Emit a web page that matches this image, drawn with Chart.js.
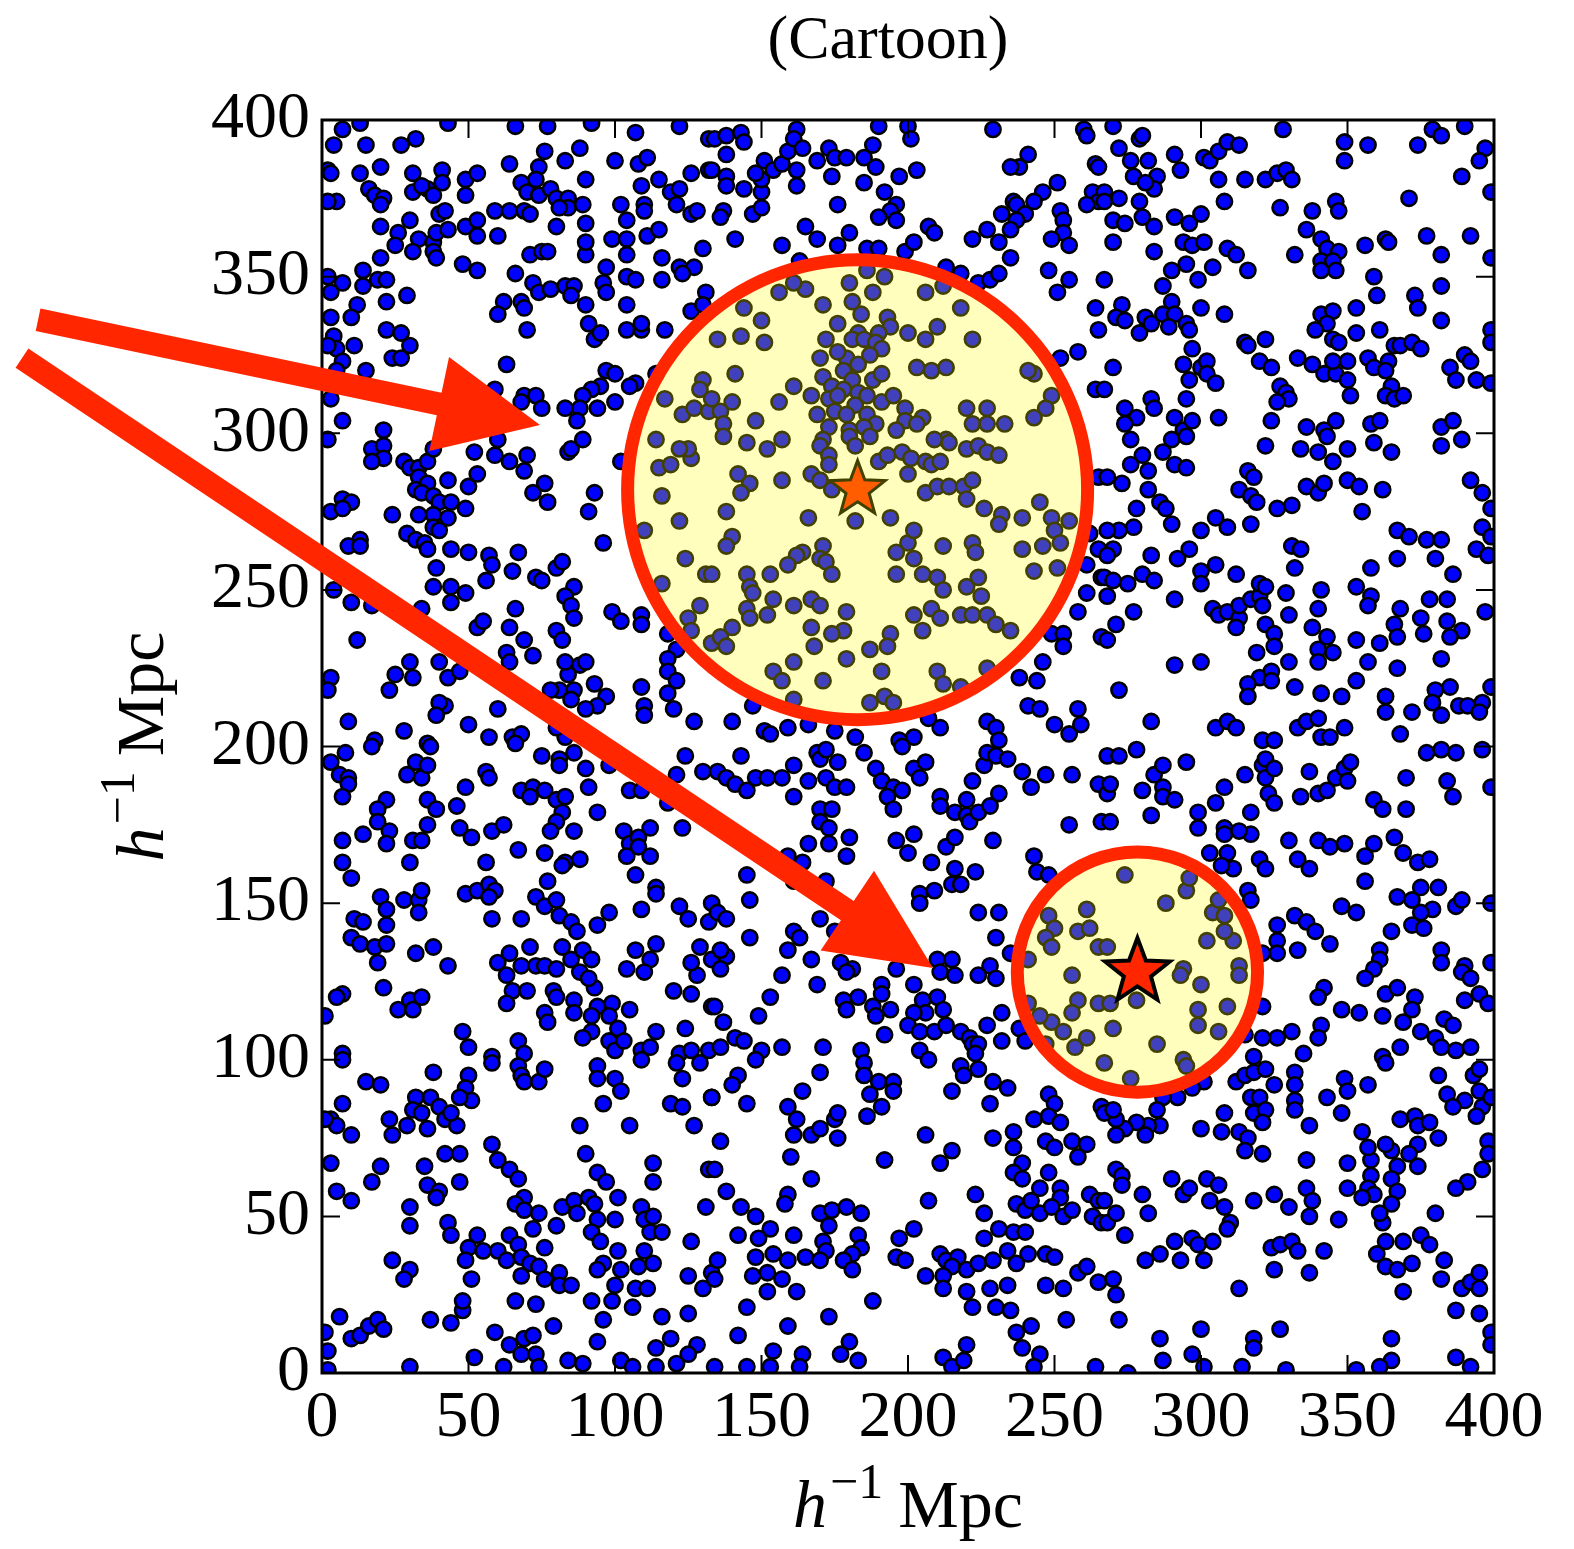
<!DOCTYPE html>
<html>
<head>
<meta charset="utf-8">
<script src="https://cdn.jsdelivr.net/npm/chart.js@4.4.1/dist/chart.umd.min.js"></script>
<style>
  html, body { margin: 0; padding: 0; background: #fff; }
  #wrap { width: 1574px; height: 1549px; }
</style>
</head>
<body>
<div id="wrap"><canvas id="cartoon" width="1574" height="1549"></canvas></div>
<script>
// galaxy positions in h^-1 Mpc, split by height in the box
var pointsTop = [
[7,397],[13,399],[43,399],[66,398],[77,398],[92,399],[107,396],[122,398],[132,394],[4,392],[15,392],[27,392],[32,394],[76,390],[88,391],[83,387],[100,387],[108,386],[111,388],[2,384],[3,383],[13,383],[20,385],[31,383],[41,384],[41,380],[49,381],[53,383],[64,386],[74,385],[73,381],[68,380],[90,381],[109,379],[115,381],[119,377],[122,378],[126,383],[132,384],[16,378],[18,376],[21,375],[20,373],[31,377],[36,378],[38,376],[34,379],[49,376],[70,377],[74,376],[78,378],[80,375],[84,375],[84,372],[89,373],[102,373],[110,373],[110,371],[121,373],[126,370],[128,371],[5,374],[2,374],[40,370],[42,371],[59,371],[64,371],[69,371],[71,370],[81,372],[90,367],[104,368],[20,366],[26,364],[30,368],[33,362],[38,361],[39,364],[43,365],[49,366],[53,368],[53,363],[60,363],[80,366],[99,362],[104,362],[111,363],[115,365],[25,360],[31,358],[38,358],[39,356],[48,354],[53,352],[71,357],[75,358],[77,358],[90,357],[90,361],[104,357],[116,356],[122,353],[127,353],[130,359],[20,356],[14,352],[7,348],[2,350],[3,345],[14,347],[19,349],[22,349],[22,342],[29,344],[66,351],[72,348],[74,345],[78,346],[83,347],[86,347],[85,344],[90,341],[97,353],[96,348],[97,345],[104,350],[107,349],[104,341],[116,349],[123,351],[131,345],[126,339],[130,341],[3,337],[12,341],[10,337],[62,342],[60,338],[68,342],[69,340],[70,333],[91,335],[93,330],[95,332],[104,333],[109,333],[109,335],[117,333],[4,331],[5,327],[2,328],[7,323],[11,328],[22,333],[27,332],[30,328],[24,324],[27,324],[63,322],[15,320],[5,320],[97,320],[100,319],[107,316],[105,315],[95,315],[92,314],[89,312],[88,308],[94,308],[100,310],[69,312],[73,312],[75,308],[68,310],[59,314],[83,308],[87,304],[114,319],[117,311],[123,306],[130,317],[129,314],[127,308],[132,307],[3,311],[7,304],[21,301],
[134,394],[138,395],[143,396],[144,393],[138,389],[133,384],[138,382],[138,379],[144,378],[137,371],[136,369],[147,370],[150,372],[150,377],[150,381],[148,383],[151,387],[154,384],[157,386],[159,390],[162,397],[161,394],[164,391],[162,384],[162,379],[169,387],[173,391],[175,388],[179,388],[174,382],[185,388],[188,392],[190,398],[200,398],[201,394],[189,385],[185,380],[192,377],[197,382],[203,384],[196,373],[194,371],[190,369],[196,368],[176,373],[165,366],[169,362],[180,364],[176,360],[186,359],[190,359],[199,358],[202,361],[207,366],[209,364],[141,362],[157,360],[163,355],[229,397],[260,397],[261,395],[264,386],[265,385],[263,377],[265,374],[261,373],[241,389],[238,385],[235,385],[251,380],[246,377],[243,374],[236,374],[237,373],[232,370],[240,370],[237,368],[235,365],[227,365],[231,361],[222,362],[252,371],[253,368],[253,364],[249,362],[255,360],[235,356],[248,352],[255,349],[251,345],[213,353],[218,351],[224,348],[228,349],[231,351],[264,340],[265,333],[252,324],[258,326],[264,314],
[186,352],[192,350],[180,348],[188,345],[156,345],[165,346],[161,348],[144,340],[150,336],[135,330],[143,331],[151,329],[171,341],[181,342],[184,338],[176,335],[183,332],[181,330],[172,330],[193,337],[194,334],[190,332],[185,330],[189,329],[191,327],[200,332],[206,330],[210,334],[222,330],[218,340],[206,345],[212,347],[170,324],[179,324],[176,326],[183,322],[187,325],[178,320],[171,318],[181,317],[188,317],[191,319],[174,315],[178,314],[183,313],[173,311],[176,312],[182,309],[186,312],[191,310],[195,312],[199,308],[167,312],[169,306],[175,307],[179,306],[186,306],[189,303],[199,304],[205,305],[196,301],[173,302],[180,301],[185,302],[203,321],[208,320],[213,321],[243,319],[241,320],[249,312],[247,308],[243,305],[220,308],[227,308],[222,303],[227,303],[233,303],[161,315],[156,310],[148,304],[140,310],[136,307],[137,303],[141,319],[133,311],[203,303],
[270,398],[279,394],[280,395],[272,391],[276,387],[282,387],[277,382],[285,382],[284,378],[281,380],[291,389],[293,384],[267,377],[272,375],[279,374],[267,374],[270,368],[274,367],[280,369],[284,366],[270,361],[291,369],[296,367],[300,370],[294,361],[297,360],[301,361],[284,358],[267,349],[287,347],[290,352],[295,354],[299,349],[304,353],[301,388],[303,387],[306,390],[309,393],[313,392],[306,381],[315,381],[308,374],[322,381],[326,383],[329,384],[331,381],[328,397],[349,393],[357,392],[349,387],[374,392],[379,397],[382,395],[390,398],[397,391],[395,387],[389,382],[399,377],[371,375],[346,374],[347,371],[338,371],[327,372],[336,365],[332,357],[341,362],[343,359],[347,358],[341,355],[345,355],[346,352],[341,352],[356,360],[363,362],[364,361],[377,363],[392,363],[382,357],[399,356],[382,347],[359,350],[360,344],[373,344],[374,340],[382,336],[399,333],[399,329],[309,359],[312,357],[316,352],[273,341],[271,337],[274,336],[279,332],[281,337],[283,335],[287,338],[290,342],[291,338],[289,334],[295,335],[296,333],[300,340],[308,338],[297,327],[294,322],[300,321],[302,323],[302,319],[296,317],[305,316],[270,321],[315,329],[316,328],[322,330],[320,323],[324,321],[333,324],[338,322],[342,319],[346,319],[350,317],[345,323],[350,323],[341,338],[345,339],[343,335],[339,333],[345,330],[347,329],[353,332],[353,340],[361,333],[357,324],[359,321],[364,323],[363,320],[366,328],[368,328],[372,329],[375,327],[365,315],[363,312],[366,311],[369,312],[351,312],[327,315],[329,313],[330,311],[326,310],[283,311],[284,308],[295,311],[274,308],[278,305],[274,303],[291,305],[294,301],[297,304],[306,305],[324,304],[336,302],[346,304],[342,301],[358,303],[361,304],[385,321],[390,325],[392,323],[387,317],[394,317],[382,302],[386,304],[267,314],[399,316]
];

var pointsUpper = [
[2,298],[17,295],[21,296],[21,292],[17,291],[28,291],[30,289],[33,289],[36,291],[38,295],[33,286],[36,284],[32,282],[34,281],[38,280],[40,278],[44,278],[38,274],[33,274],[43,273],[38,270],[40,269],[29,268],[32,266],[35,265],[36,263],[43,285],[50,283],[53,287],[52,294],[59,293],[60,298],[64,291],[69,288],[70,293],[76,284],[72,281],[77,278],[84,294],[85,295],[89,298],[93,281],[91,275],[96,265],[102,291],[7,279],[10,278],[3,275],[7,276],[24,274],[49,276],[13,266],[9,264],[13,264],[44,263],[50,262],[57,261],[58,258],[56,253],[39,257],[38,251],[44,251],[49,249],[44,246],[65,256],[67,262],[73,254],[75,253],[80,257],[82,259],[86,251],[83,248],[85,245],[86,241],[66,244],[64,238],[69,234],[72,229],[63,230],[64,227],[53,238],[55,240],[80,237],[82,234],[99,243],[102,240],[109,242],[109,239],[118,236],[121,231],[118,228],[118,224],[121,221],[118,217],[120,212],[109,219],[110,213],[110,210],[127,208],[93,220],[97,216],[94,213],[90,212],[84,223],[86,218],[81,218],[78,218],[85,215],[83,227],[88,226],[90,227],[60,212],[50,207],[42,213],[40,214],[39,210],[28,205],[18,202],[9,208],[36,201],[57,203],[65,203],[68,204],[66,201],[83,203],[80,206],[23,218],[25,223],[30,227],[31,222],[40,227],[43,222],[47,224],[12,234],[3,222],[2,218],[4,250],[10,246],[17,245],[34,244],[116,280],[122,272],[115,289],[119,290],[114,298],[126,292],[125,295],[116,252],[131,255],[129,245],[125,241],[126,237],[133,233],[110,269],[124,260],[122,295],
[137,299],[145,297],[152,295],[157,298],[171,298],[170,296],[173,293],[173,290],[180,299],[182,296],[187,299],[190,291],[193,293],[198,294],[201,292],[200,287],[206,291],[208,290],[211,291],[213,298],[214,297],[220,295],[224,296],[227,294],[231,293],[209,298],[142,287],[146,284],[143,281],[157,285],[167,287],[170,285],[174,282],[138,275],[166,273],[182,272],[194,273],[206,281],[210,283],[214,283],[219,283],[222,285],[220,279],[226,276],[232,274],[231,271],[239,273],[245,278],[249,273],[250,269],[255,272],[252,265],[246,264],[239,263],[243,256],[251,257],[140,267],[138,264],[164,262],[162,261],[171,264],[170,260],[172,259],[174,255],[159,258],[153,255],[145,255],[146,251],[147,249],[133,255],[154,247],[161,245],[167,247],[170,245],[152,242],[145,244],[146,241],[179,243],[196,262],[200,265],[202,269],[202,260],[196,255],[205,255],[210,254],[212,250],[220,251],[224,254],[225,248],[222,265],[223,262],[212,264],[202,242],[205,237],[208,244],[211,241],[218,242],[222,242],[227,242],[230,239],[235,237],[194,236],[193,232],[187,231],[178,237],[174,236],[167,238],[168,232],[179,228],[161,227],[154,224],[157,221],[171,221],[191,224],[210,224],[212,220],[218,219],[140,238],[136,235],[138,232],[161,215],[192,216],[187,214],[195,214],[227,225],[147,213],[140,208],[151,205],[153,204],[159,206],[166,207],[175,205],[182,203],[197,202],[202,203],[207,209],[211,206],[227,208],[230,206],[231,202],[238,222],[244,221],[246,227],[249,236],[253,236],[253,232],[258,243],[266,235],[241,213],[245,212],[258,212],[250,207],[255,204],[259,207],[261,249],[266,254],[261,258],[265,263],[262,268],[265,286],
[276,298],[290,298],[295,299],[280,293],[276,290],[282,288],[287,294],[291,290],[295,289],[268,286],[273,284],[282,282],[286,278],[288,276],[290,271],[278,276],[277,270],[272,269],[268,269],[270,263],[268,261],[267,254],[270,253],[275,252],[268,248],[283,261],[280,255],[284,253],[292,260],[296,263],[300,256],[300,252],[305,258],[300,269],[305,273],[309,270],[312,255],[291,247],[277,243],[271,239],[268,234],[291,226],[300,227],[272,218],[283,208],[305,206],[309,208],[312,206],[321,202],[325,202],[322,296],[334,295],[340,294],[343,299],[345,291],[350,295],[359,297],[365,294],[382,296],[389,298],[392,285],[396,281],[399,276],[396,270],[399,267],[394,263],[398,261],[316,288],[318,286],[313,282],[317,280],[319,278],[317,271],[326,276],[331,277],[336,283],[340,281],[342,284],[350,285],[354,283],[362,282],[355,275],[331,264],[334,263],[332,257],[358,257],[367,269],[371,267],[377,266],[382,266],[367,260],[380,260],[386,255],[304,244],[306,242],[309,243],[313,241],[313,245],[317,247],[320,248],[320,252],[322,251],[321,245],[312,238],[322,239],[325,236],[325,232],[319,230],[329,249],[330,242],[341,250],[340,244],[338,238],[343,235],[345,230],[340,231],[340,227],[330,227],[320,222],[324,224],[324,221],[316,220],[316,216],[332,219],[341,217],[348,216],[353,221],[357,227],[367,225],[353,234],[361,233],[366,239],[367,235],[368,244],[375,241],[376,236],[378,247],[384,247],[384,240],[389,237],[385,235],[382,228],[353,251],[358,248],[357,245],[397,243],[399,219],[380,218],[385,219],[379,214],[382,210],[388,213],[391,213],[396,214],[395,211],[363,216],[363,211],[372,211],[368,204],[333,206],[336,208],[340,209],[349,206],[341,203],[344,203]
];

var pointsLower = [
[8,198],[17,200],[3,195],[6,191],[9,190],[9,188],[7,184],[37,200],[32,195],[29,191],[34,190],[36,194],[36,183],[39,180],[46,181],[49,187],[56,192],[57,190],[22,183],[19,180],[19,176],[23,173],[22,169],[14,172],[7,170],[31,170],[34,170],[30,163],[36,175],[47,174],[51,171],[58,173],[62,175],[68,186],[72,187],[76,186],[71,184],[80,183],[83,184],[82,179],[80,176],[78,173],[86,173],[67,167],[76,166],[83,163],[82,162],[88,164],[77,157],[56,163],[7,163],[10,158],[75,197],[81,196],[81,194],[86,198],[90,193],[91,187],[94,179],[98,194],[105,186],[109,186],[118,182],[124,197],[121,191],[130,192],[123,174],[103,173],[105,169],[108,171],[108,168],[112,174],[112,165],[104,165],[107,159],[114,155],[114,153],[109,148],[122,149],[125,145],[132,144],[98,147],[94,143],[20,152],[22,148],[28,151],[33,151],[34,154],[33,147],[49,153],[53,154],[57,156],[59,154],[57,152],[58,145],[68,145],[73,152],[76,149],[80,151],[81,146],[85,144],[87,141],[11,145],[14,144],[22,143],[10,139],[13,137],[18,136],[22,137],[19,131],[32,134],[38,136],[43,130],[60,131],[64,134],[68,130],[71,136],[73,130],[76,130],[80,129],[82,136],[85,132],[89,135],[92,132],[88,128],[93,123],[91,126],[63,127],[65,122],[70,122],[63,118],[79,122],[80,120],[86,119],[86,115],[76,115],[77,112],[94,117],[99,118],[98,114],[92,114],[105,116],[101,110],[92,109],[89,107],[98,106],[100,103],[103,106],[109,103],[112,104],[114,109],[124,110],[122,102],[126,103],[132,103],[107,135],[114,137],[112,132],[110,128],[104,129],[120,122],[126,121],[128,127],[129,136],[126,131],[133,117],[133,132],[21,123],[26,116],[30,119],[31,116],[34,120],[7,121],[5,120],[1,114],[48,109],[50,104],[67,106],[69,102],[58,101],[7,102],
[143,197],[135,192],[138,190],[141,188],[145,186],[148,190],[152,190],[157,190],[161,194],[161,184],[166,189],[169,198],[170,196],[172,199],[176,195],[172,190],[175,187],[179,187],[185,198],[189,193],[191,189],[195,187],[193,184],[195,180],[198,186],[202,193],[204,190],[206,195],[198,200],[211,184],[211,181],[216,179],[220,178],[221,176],[220,183],[224,179],[228,181],[231,185],[222,189],[226,194],[227,198],[230,197],[234,196],[239,192],[242,187],[247,191],[256,191],[265,188],[255,175],[266,176],[170,180],[174,180],[170,176],[173,174],[173,169],[166,169],[180,171],[179,165],[196,170],[202,172],[200,166],[208,163],[213,168],[216,171],[229,170],[216,161],[223,160],[215,156],[218,156],[204,153],[209,154],[204,150],[243,165],[244,160],[248,159],[224,147],[231,147],[230,139],[235,134],[145,159],[146,151],[133,150],[135,147],[138,145],[146,139],[159,165],[164,163],[161,157],[172,157],[170,145],[175,141],[161,141],[163,139],[159,135],[167,132],[177,131],[181,129],[196,129],[210,132],[215,132],[211,128],[216,127],[224,127],[228,130],[230,126],[138,133],[136,135],[136,129],[157,127],[169,124],[191,124],[191,121],[202,124],[205,119],[210,120],[212,116],[206,115],[202,115],[200,111],[204,109],[209,109],[213,111],[218,109],[221,107],[222,105],[224,105],[227,111],[232,115],[232,106],[238,110],[240,106],[178,119],[179,116],[183,120],[188,117],[189,114],[194,116],[192,108],[153,120],[149,114],[134,117],[137,112],[141,107],[144,106],[136,104],[150,103],[157,104],[171,104],[184,103],[204,103],[223,102],[179,128],[248,146],[250,142],[247,139],[249,136],[261,148],[258,141],[262,142],[265,136],[241,132],[256,127],[258,119],[256,115],[265,118],[249,112],[245,114],[253,109],[257,104],[261,107],[247,105],[241,118],
[268,197],[272,197],[278,199],[268,185],[269,188],[280,186],[284,191],[287,194],[287,187],[287,184],[291,183],[283,178],[269,176],[295,195],[299,179],[299,174],[305,182],[308,187],[315,191],[317,179],[317,172],[321,194],[322,196],[322,190],[325,193],[323,185],[325,182],[308,174],[308,172],[309,166],[311,161],[303,166],[307,162],[313,173],[320,164],[322,161],[316,154],[317,151],[330,170],[333,164],[337,161],[340,170],[344,168],[349,169],[356,165],[359,169],[366,171],[369,166],[374,163],[378,164],[337,192],[334,184],[340,185],[343,186],[346,190],[349,193],[351,195],[350,189],[359,183],[362,180],[370,190],[370,180],[377,198],[382,199],[387,198],[396,199],[384,189],[386,184],[399,187],[356,157],[367,152],[372,151],[375,155],[381,155],[379,148],[375,147],[372,143],[376,142],[365,141],[348,149],[353,147],[332,146],[336,144],[339,141],[326,143],[326,138],[326,134],[333,135],[321,134],[344,137],[387,149],[389,151],[399,150],[382,135],[382,131],[390,130],[389,128],[392,126],[395,121],[390,119],[398,118],[399,131],[361,135],[361,132],[359,129],[356,126],[363,121],[367,123],[373,120],[372,116],[369,112],[375,109],[380,107],[383,113],[386,111],[382,104],[387,103],[392,104],[368,104],[362,101],[348,116],[354,115],[362,114],[342,123],[340,120],[341,111],[340,107],[331,109],[326,107],[321,107],[318,101],[335,102],[321,117],[315,108],[274,159],[295,154],[296,158],[288,150],[304,147],[308,146],[306,151],[311,138],[308,141],[302,138],[313,130],[313,127],[294,129],[293,127],[300,124],[268,136],[269,118],[278,119],[270,110],[299,116],[299,111],[309,117],[306,109],[285,105],[294,100]
];

var pointsBottom = [
[7,100],[15,93],[20,92],[38,96],[50,95],[49,91],[51,87],[47,88],[37,88],[40,85],[42,81],[46,79],[44,83],[32,88],[31,84],[34,83],[23,81],[24,76],[29,79],[36,78],[7,86],[3,81],[5,79],[10,76],[3,67],[20,66],[17,61],[5,58],[10,55],[35,66],[42,70],[47,70],[47,61],[36,60],[40,58],[39,56],[30,53],[30,47],[43,48],[44,44],[58,73],[60,68],[64,65],[67,62],[69,56],[66,54],[69,52],[74,51],[72,46],[80,47],[82,53],[86,55],[87,51],[91,56],[93,54],[94,64],[97,61],[101,56],[100,49],[94,49],[92,45],[95,42],[101,39],[96,35],[94,33],[102,33],[108,34],[110,39],[113,35],[100,28],[99,23],[107,27],[111,27],[106,21],[92,23],[96,17],[109,53],[110,49],[113,50],[112,45],[116,45],[126,42],[125,31],[130,27],[133,32],[131,53],[132,65],[113,67],[113,61],[119,86],[123,85],[127,79],[123,94],[133,88],[129,99],[121,99],[109,100],[67,98],[68,95],[69,93],[74,93],[76,97],[58,99],[94,98],[94,94],[100,94],[102,90],[96,86],[88,79],[105,79],[90,70],[53,44],[50,40],[55,39],[49,36],[51,30],[60,39],[64,44],[67,41],[63,36],[68,37],[71,35],[76,40],[74,34],[76,30],[81,32],[81,28],[85,28],[68,31],[24,36],[30,33],[28,30],[6,18],[10,11],[13,12],[16,15],[19,17],[21,14],[37,17],[44,16],[48,20],[48,23],[66,23],[73,22],[59,13],[64,9],[68,6],[69,11],[72,12],[73,6],[79,15],[84,4],[89,3],[94,10],[102,4],[106,2],[114,8],[114,2],[119,11],[121,3],[128,9],[125,6],[125,19],[116,18],[1,13],[2,7],[52,5],[62,2],[74,2],[30,2],[2,1],[1,81],
[148,100],[142,95],[140,92],[145,86],[133,88],[136,74],[134,65],[170,96],[164,90],[159,85],[162,81],[161,76],[167,76],[170,78],[175,81],[176,83],[176,75],[160,69],[167,62],[185,99],[185,95],[190,93],[187,89],[195,93],[195,90],[191,85],[186,82],[207,100],[218,98],[219,95],[224,97],[215,90],[229,93],[234,91],[228,86],[248,89],[250,86],[243,81],[248,82],[252,80],[247,74],[250,72],[256,74],[261,73],[258,69],[206,76],[215,71],[211,67],[192,68],[229,75],[236,77],[236,72],[239,67],[236,64],[239,62],[248,64],[245,59],[252,59],[252,56],[262,57],[265,55],[266,85],[138,58],[143,53],[148,50],[159,57],[158,54],[170,51],[174,52],[179,53],[184,51],[173,47],[171,42],[172,39],[183,44],[184,40],[181,38],[178,36],[181,33],[165,37],[170,36],[159,36],[161,44],[153,46],[149,43],[148,37],[154,38],[147,31],[152,32],[157,30],[152,26],[162,26],[142,44],[135,36],[134,30],[145,21],[207,55],[223,57],[226,51],[197,43],[202,46],[196,37],[199,36],[206,31],[211,38],[213,36],[217,37],[215,34],[220,33],[212,31],[212,27],[224,35],[229,36],[226,43],[231,46],[236,45],[240,45],[234,39],[237,35],[241,38],[247,38],[250,37],[237,54],[240,52],[242,55],[245,51],[249,53],[253,50],[256,52],[263,50],[266,48],[220,26],[222,21],[228,27],[234,28],[230,21],[235,20],[237,13],[242,15],[239,8],[247,28],[253,27],[258,32],[261,34],[254,17],[245,6],[243,2],[265,29],[264,2],[212,5],[215,2],[220,9],[219,4],[188,23],[173,18],[159,15],[142,12],[154,7],[164,6],[180,10],[177,6],[183,4],[134,2],[145,2],[153,2],[163,2],
[267,99],[276,94],[295,98],[301,93],[297,91],[292,88],[287,88],[285,84],[286,79],[282,79],[281,76],[278,80],[274,78],[271,76],[271,81],[267,83],[270,84],[312,93],[315,95],[318,96],[317,88],[320,88],[322,97],[325,92],[318,83],[322,84],[321,80],[332,96],[332,92],[332,87],[332,84],[337,79],[308,83],[307,77],[313,77],[316,75],[315,71],[321,70],[300,78],[336,68],[343,88],[349,94],[350,90],[357,92],[348,83],[363,99],[381,95],[384,89],[390,87],[386,85],[393,95],[395,97],[395,90],[396,85],[394,82],[399,88],[368,81],[373,82],[374,79],[378,80],[381,75],[374,73],[371,70],[374,66],[367,66],[365,71],[363,73],[358,68],[357,72],[355,77],[358,63],[357,59],[359,57],[355,56],[365,62],[367,58],[365,54],[362,48],[361,51],[350,67],[350,59],[347,49],[336,59],[338,55],[337,50],[330,53],[325,57],[318,55],[398,74],[398,70],[396,65],[391,61],[387,59],[380,51],[271,65],[273,63],[273,60],[280,57],[290,62],[294,57],[296,59],[302,62],[306,60],[303,55],[308,53],[310,48],[309,46],[267,55],[268,48],[271,51],[282,51],[274,44],[291,42],[297,43],[299,41],[304,42],[281,36],[286,38],[293,36],[301,36],[324,40],[327,41],[331,42],[333,39],[325,33],[337,32],[342,39],[360,38],[363,42],[363,34],[367,33],[369,42],[372,35],[375,44],[378,41],[383,36],[382,30],[389,27],[392,29],[395,32],[395,27],[369,26],[387,20],[395,19],[399,13],[399,9],[270,30],[271,25],[313,27],[272,17],[286,11],[300,14],[297,6],[287,4],[318,11],[318,8],[327,14],[365,11],[365,4],[387,5],[392,2],[361,2],[353,1],[314,2],[301,2],[275,0],[329,1]
];

var tickValues = [0, 50, 100, 150, 200, 250, 300, 350, 400];

// the two spheres around the marked haloes (centre and radius in Mpc)
var sphereX = [182.8, 278.3];
var sphereY = [282.0, 128.0];
var sphereR = [78.5, 41.0];
var starBelowShade = [true, false];

// arrows coming in from the left margin
var arrowTailX = [-96.9, -102.4];
var arrowTailY = [336.2, 324.0];
var arrowTipX = [74.4, 208.5];
var arrowTipY = [302.6, 129.3];

var RED = '#ff2600';
var SERIF = '"Liberation Serif", "Times New Roman", serif';

var galaxies = pointsTop.concat(pointsUpper, pointsLower, pointsBottom).map(function (p) {
    return { x: p[0], y: p[1] };
});

function drawStar(ctx, cx, cy, R, lw) {
    ctx.beginPath();
    for (var i = 0; i < 10; i++) {
        var ang = -Math.PI / 2 + i * Math.PI / 5;
        var r = (i % 2) ? R * 0.42 : R;
        var px = cx + r * Math.cos(ang), py = cy + r * Math.sin(ang);
        if (i === 0) ctx.moveTo(px, py); else ctx.lineTo(px, py);
    }
    ctx.closePath();
    ctx.fillStyle = RED;
    ctx.fill();
    ctx.lineWidth = lw;
    ctx.strokeStyle = '#000';
    ctx.lineJoin = 'miter';
    ctx.stroke();
}

function drawArrow(ctx, x0, y0, x1, y1) {
    var dx = x1 - x0, dy = y1 - y0;
    var len = Math.sqrt(dx * dx + dy * dy);
    var ux = dx / len, uy = dy / len;
    var nx = -uy, ny = ux;
    var shaft = 11.5, headHalf = 48, headLen = 103;
    var bx = x1 - ux * headLen, by = y1 - uy * headLen;
    ctx.beginPath();
    ctx.moveTo(x0 + nx * shaft, y0 + ny * shaft);
    ctx.lineTo(bx + nx * shaft, by + ny * shaft);
    ctx.lineTo(bx + nx * headHalf, by + ny * headHalf);
    ctx.lineTo(x1, y1);
    ctx.lineTo(bx - nx * headHalf, by - ny * headHalf);
    ctx.lineTo(bx - nx * shaft, by - ny * shaft);
    ctx.lineTo(x0 - nx * shaft, y0 - ny * shaft);
    ctx.closePath();
    ctx.fillStyle = RED;
    ctx.fill();
}

// h^{-1} Mpc, centred on (cx, baseline)
function drawUnit(ctx, cx, baseline, size) {
    var main = size + 'px ' + SERIF;
    var ital = 'italic ' + main;
    var sup = Math.round(size * 0.74) + 'px ' + SERIF;
    ctx.font = ital; var wh = ctx.measureText('h').width;
    ctx.font = sup; var ws = ctx.measureText('\u22121').width;
    ctx.font = main; var wm = ctx.measureText('Mpc').width;
    var gap = size * 0.22;
    var total = wh + 3 + ws + gap + wm;
    var x = cx - total / 2;
    ctx.textAlign = 'left';
    ctx.textBaseline = 'alphabetic';
    ctx.font = ital; ctx.fillText('h', x, baseline);
    x += wh + 3;
    ctx.font = sup; ctx.fillText('\u22121', x, baseline - size * 0.42);
    x += ws + gap;
    ctx.font = main; ctx.fillText('Mpc', x, baseline);
}

var decorations = {
    id: 'decorations',
    afterDatasetsDraw: function (chart) {
        var ctx = chart.ctx, sx = chart.scales.x, sy = chart.scales.y;
        var unit = sx.getPixelForValue(1) - sx.getPixelForValue(0);
        ctx.save();
        for (var i = 0; i < sphereX.length; i++) {
            var cx = sx.getPixelForValue(sphereX[i]);
            var cy = sy.getPixelForValue(sphereY[i]);
            var r = sphereR[i] * unit;
            if (starBelowShade[i]) drawStar(ctx, cx, cy, 29, 3);
            ctx.beginPath();
            ctx.arc(cx, cy, r, 0, Math.PI * 2);
            ctx.fillStyle = 'rgba(255, 250, 0, 0.26)';
            ctx.fill();
            ctx.lineWidth = 13;
            ctx.strokeStyle = RED;
            ctx.stroke();
            if (!starBelowShade[i]) drawStar(ctx, cx, cy, 34, 4);
        }
        ctx.restore();
    },
    afterDraw: function (chart) {
        var ctx = chart.ctx, sx = chart.scales.x, sy = chart.scales.y;
        var a = chart.chartArea;
        ctx.save();
        // frame and inward ticks on every side
        ctx.strokeStyle = '#000';
        ctx.lineWidth = 3;
        ctx.strokeRect(a.left, a.top, a.right - a.left, a.bottom - a.top);
        ctx.lineWidth = 2;
        ctx.beginPath();
        var L = 18;
        tickValues.forEach(function (v) {
            var X = sx.getPixelForValue(v), Y = sy.getPixelForValue(v);
            ctx.moveTo(X, a.bottom); ctx.lineTo(X, a.bottom - L);
            ctx.moveTo(X, a.top); ctx.lineTo(X, a.top + L);
            ctx.moveTo(a.left, Y); ctx.lineTo(a.left + L, Y);
            ctx.moveTo(a.right, Y); ctx.lineTo(a.right - L, Y);
        });
        ctx.stroke();

        for (var k = 0; k < arrowTailX.length; k++) {
            drawArrow(ctx,
                sx.getPixelForValue(arrowTailX[k]), sy.getPixelForValue(arrowTailY[k]),
                sx.getPixelForValue(arrowTipX[k]), sy.getPixelForValue(arrowTipY[k]));
        }

        ctx.fillStyle = '#000';
        ctx.font = '62px ' + SERIF;
        ctx.textAlign = 'center';
        ctx.textBaseline = 'alphabetic';
        ctx.fillText('(Cartoon)', (a.left + a.right) / 2 - 20, 58);

        drawUnit(ctx, (a.left + a.right) / 2, 1527, 68);

        ctx.translate(163, (a.top + a.bottom) / 2);
        ctx.rotate(-Math.PI / 2);
        drawUnit(ctx, 0, 0, 68);
        ctx.restore();
    }
};

var tickFont = { family: SERIF, size: 66 };

new Chart(document.getElementById('cartoon'), {
    type: 'scatter',
    data: {
        datasets: [{
            data: galaxies,
            backgroundColor: '#0000ff',
            borderColor: '#000000',
            borderWidth: 2.6,
            pointRadius: 7.6,
            pointHoverRadius: 7.6
        }]
    },
    options: {
        responsive: false,
        animation: false,
        events: [],
        layout: { padding: { top: 120, right: 80, left: 0, bottom: 0 } },
        plugins: { legend: { display: false }, tooltip: { enabled: false }, title: { display: false } },
        scales: {
            x: {
                type: 'linear', min: 0, max: 400,
                grid: { display: false, drawTicks: false },
                border: { display: false },
                ticks: { stepSize: 50, font: tickFont, color: '#000', padding: 6, maxRotation: 0, autoSkip: false },
                afterFit: function (scale) { scale.height = 176; }
            },
            y: {
                type: 'linear', min: 0, max: 400,
                grid: { display: false, drawTicks: false },
                border: { display: false },
                ticks: { stepSize: 50, font: tickFont, color: '#000', padding: 12, autoSkip: false },
                afterFit: function (scale) { scale.width = 322; }
            }
        }
    },
    plugins: [decorations]
});
</script>
</body>
</html>
